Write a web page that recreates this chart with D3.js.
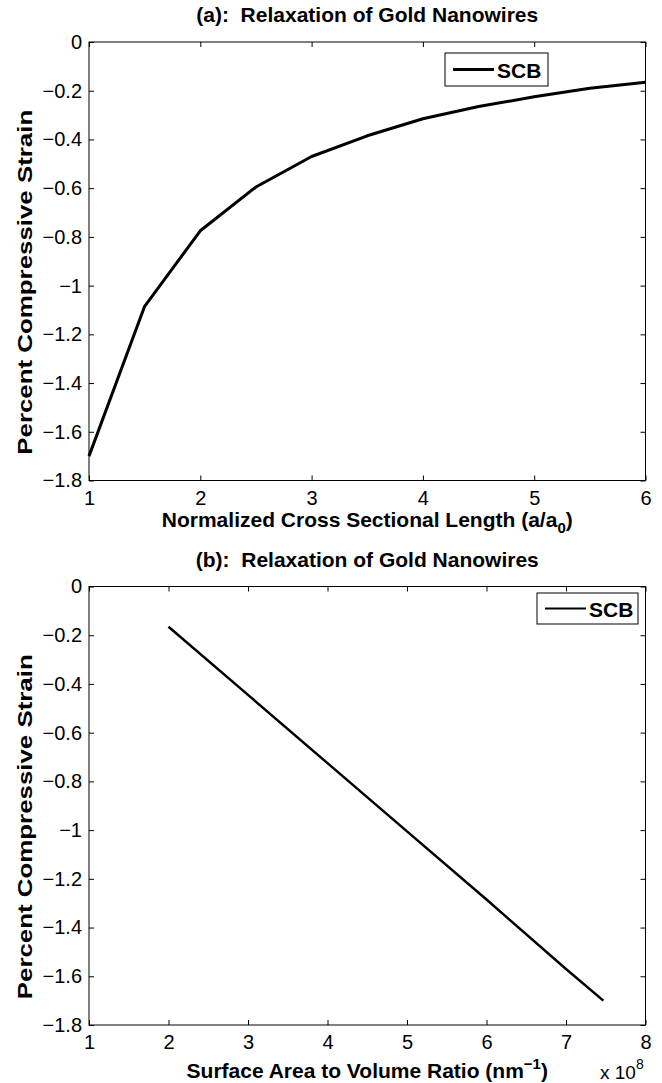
<html>
<style>
  body { margin: 0; background: #fff; }
  text { font-family: "Liberation Sans", Arial, sans-serif; fill: #000; white-space: pre; }
  .lbl { font-size: 21px; font-weight: bold; }
</style>
<body>
<script src="https://d3js.org/d3.v7.min.js"></script>
<script>
// panel (a): strain vs normalized cross sectional length
const lengthA = [1, 1.5, 2, 2.5, 3, 3.5, 4, 4.5, 5, 5.5, 6];
const strainA = [-1.70, -1.085, -0.775, -0.595, -0.47, -0.385, -0.315, -0.265, -0.225, -0.19, -0.165];

// panel (b): strain vs surface area to volume ratio (x 1e8)
const ratioB = [2.0, 3.0, 4.0, 5.0, 6.0, 7.0, 7.47];
const strainB = [-0.165, -0.445, -0.725, -1.005, -1.285, -1.57, -1.70];

const yTicks = [0, -0.2, -0.4, -0.6, -0.8, -1, -1.2, -1.4, -1.6, -1.8];
const xTicksA = [1, 2, 3, 4, 5, 6];
const xTicksB = [1, 2, 3, 4, 5, 6, 7, 8];

const W = 662, H = 1083;
const left = 89, right = 645.5;
const FONT = "'Liberation Sans', Arial, sans-serif";

const svg = d3.select("body").append("svg")
    .attr("width", W)
    .attr("height", H);

function fmt(d) {
    return d === 0 ? "0" : String(d).replace("-", "\u2212");
}

function panel(opt) {
    const x = d3.scaleLinear().domain(opt.xDomain).range([left, right]);
    const y = d3.scaleLinear().domain([-1.8, 0]).range([opt.bottom, opt.top]);
    const g = svg.append("g");

    // bottom + top axes, ticks pointing inward
    g.append("g")
        .attr("transform", `translate(0,${opt.bottom})`)
        .call(d3.axisBottom(x).tickValues(opt.xTicks).tickSize(-5).tickPadding(10).tickFormat(fmt))
        .call(a => a.select(".domain").remove());
    g.append("g")
        .attr("transform", `translate(0,${opt.top})`)
        .call(d3.axisTop(x).tickValues(opt.xTicks).tickSize(-5).tickFormat(""))
        .call(a => a.select(".domain").remove());
    // left + right axes
    g.append("g")
        .attr("transform", `translate(${left},0)`)
        .call(d3.axisLeft(y).tickValues(yTicks).tickSize(-5).tickPadding(7).tickFormat(fmt))
        .call(a => a.select(".domain").remove());
    g.append("g")
        .attr("transform", `translate(${right},0)`)
        .call(d3.axisRight(y).tickValues(yTicks).tickSize(-5).tickFormat(""))
        .call(a => a.select(".domain").remove());

    g.selectAll(".tick line").attr("stroke", "#000");
    g.selectAll(".tick text")
        .attr("font-size", 20)
        .attr("font-family", FONT);

    g.append("rect")
        .attr("x", left).attr("y", opt.top)
        .attr("width", right - left).attr("height", opt.bottom - opt.top)
        .attr("fill", "none").attr("stroke", "#000").attr("stroke-width", 1);

    // data line
    const pts = opt.xs.map((v, i) => [v, opt.ys[i]]);
    g.append("path")
        .datum(pts)
        .attr("fill", "none")
        .attr("stroke", "#000")
        .attr("stroke-width", opt.lw)
        .attr("stroke-linejoin", "round")
        .attr("d", d3.line().x(d => x(d[0])).y(d => y(d[1])));

    // title
    g.append("text").attr("class", "lbl")
        .attr("x", (left + right) / 2).attr("y", opt.top - 20)
        .attr("text-anchor", "middle")
        .text(opt.title);

    // y label (stretched along its length like the original)
    g.append("text").attr("class", "lbl")
        .attr("transform", `translate(32,${(opt.top + opt.bottom) / 2 + 21}) rotate(-90)`)
        .attr("text-anchor", "middle")
        .attr("textLength", 345)
        .attr("lengthAdjust", "spacingAndGlyphs")
        .text("Percent Compressive Strain");

    // x label
    const xl = g.append("text").attr("class", "lbl")
        .attr("x", (left + right) / 2).attr("y", opt.bottom + opt.xlabDy)
        .attr("text-anchor", "middle");
    xl.append("tspan").text(opt.xlab[0]);
    xl.append("tspan").attr("font-size", 15).attr("dy", opt.xlab[2]).text(opt.xlab[1]);
    xl.append("tspan").attr("dy", -opt.xlab[2]).text(opt.xlab[3]);

    // legend
    const lg = opt.legend;
    g.append("rect")
        .attr("x", lg.x).attr("y", lg.y).attr("width", lg.w).attr("height", lg.h)
        .attr("fill", "#fff").attr("stroke", "#000").attr("stroke-width", 1);
    g.append("line")
        .attr("x1", lg.x + 8).attr("x2", lg.x + 49)
        .attr("y1", lg.y + lg.h / 2).attr("y2", lg.y + lg.h / 2)
        .attr("stroke", "#000").attr("stroke-width", lg.lw);
    g.append("text").attr("class", "lbl")
        .attr("x", lg.x + 52).attr("y", lg.y + lg.h / 2 + 8)
        .text("SCB");

    return {x, y};
}

panel({
    top: 42, bottom: 480.5,
    xDomain: [1, 6], xTicks: xTicksA,
    xs: lengthA, ys: strainA, lw: 3,
    title: "(a):  Relaxation of Gold Nanowires",
    xlab: ["Normalized Cross Sectional Length (a/a", "0", 6, ")"], xlabDy: 46,
    legend: {x: 445, y: 53, w: 103, h: 33, lw: 3}
});

panel({
    top: 586.5, bottom: 1025,
    xDomain: [1, 8], xTicks: xTicksB,
    xs: ratioB, ys: strainB, lw: 2.5,
    title: "(b):  Relaxation of Gold Nanowires",
    xlab: ["Surface Area to Volume Ratio (nm", "\u22121", -9, ")"], xlabDy: 53,
    legend: {x: 537, y: 593, w: 101, h: 31, lw: 2}
});

// exponent label for panel (b)
const ex = svg.append("text")
    .attr("x", 600).attr("y", 1079)
    .attr("font-family", FONT)
    .attr("font-size", 19);
ex.append("tspan").text("x 10");
ex.append("tspan").attr("font-size", 14).attr("dy", -10).text("8");
</script>
</body>
</html>
